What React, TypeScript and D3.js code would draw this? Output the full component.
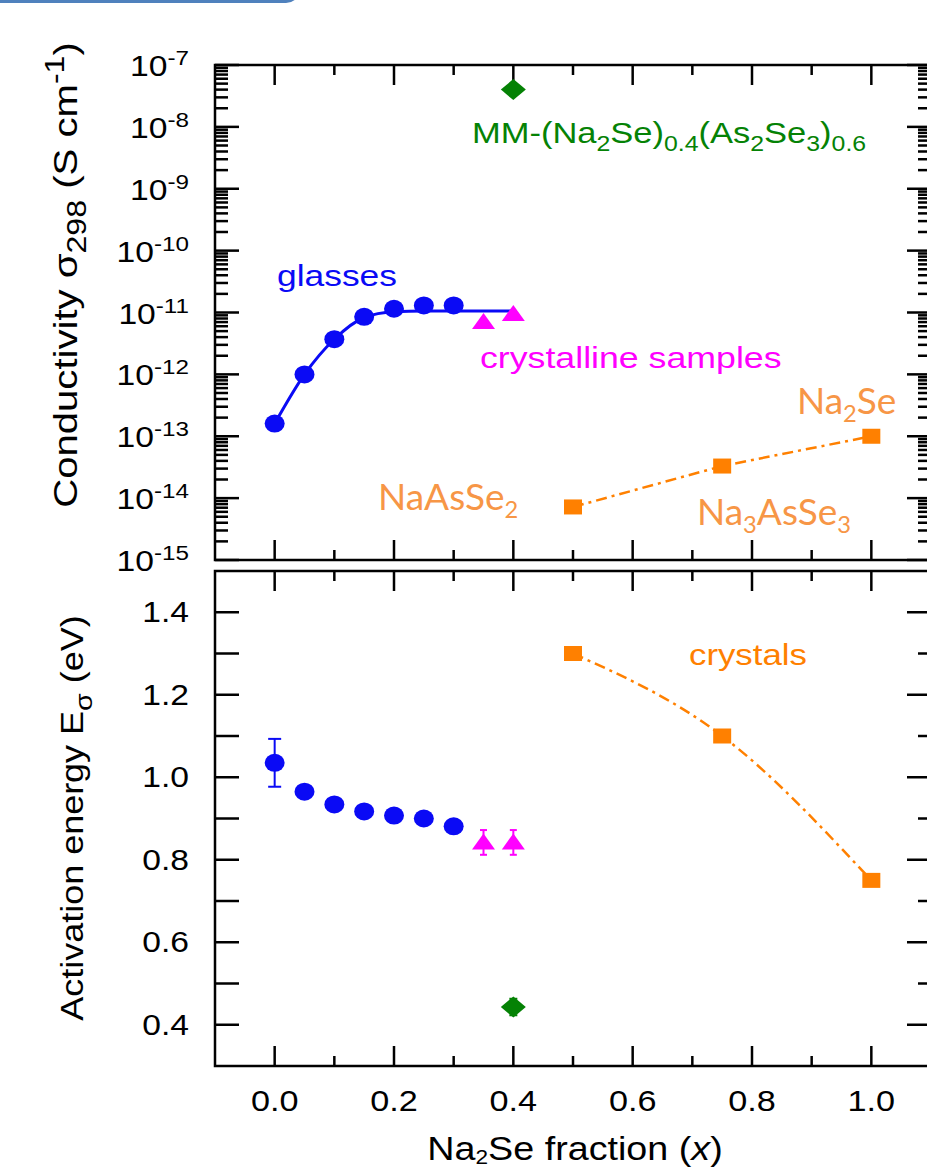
import React from "react";
import * as d3 from "d3";

const W = 927;
const H = 1170;
const ARIAL = "'Liberation Sans', Arial, sans-serif";
const CALIBRI = "Lato, 'Open Sans', sans-serif";

// Na2Se fraction of the glasses and their room-temperature conductivity / activation energy
const glassX = [0, 0.05, 0.1, 0.15, 0.2, 0.25, 0.3];
const glassSigma = [1.6e-13, 1.0e-12, 3.7e-12, 8.5e-12, 1.15e-11, 1.3e-11, 1.3e-11];
const glassEa = [1.035, 0.965, 0.934, 0.917, 0.907, 0.9, 0.881];
const glassEaErr = [0.058, 0, 0, 0, 0, 0, 0];

// guide curve through the glass conductivities
const glassFitX = [0, 0.05, 0.1, 0.15, 0.2, 0.25, 0.3, 0.35, 0.4];
const glassFitSigma = [1.6e-13, 1.0e-12, 3.7e-12, 8.3e-12, 1.03e-11, 1.06e-11, 1.06e-11, 1.06e-11, 1.06e-11];

// crystallised samples
const crystSampleX = [0.35, 0.4];
const crystSampleSigma = [7.0e-12, 9.5e-12];
const crystSampleEa = [0.842, 0.842];
const crystSampleEaErr = [0.03, 0.03];

// mechanically milled (Na2Se)0.4(As2Se3)0.6
const mmX = [0.4];
const mmSigma = [4.0e-8];
const mmEa = [0.443];
const mmEaErr = [0.02];

// crystalline compounds NaAsSe2, Na3AsSe3, Na2Se
const crystalX = [0.5, 0.75, 1.0];
const crystalSigma = [7.2e-15, 3.3e-14, 1.0e-13];
const crystalEa = [1.3, 1.1, 0.75];

// axis ticks
const xMajor = [0, 0.2, 0.4, 0.6, 0.8, 1.0];
const xMinor = [0.1, 0.3, 0.5, 0.7, 0.9];
const xLabels = ["0.0", "0.2", "0.4", "0.6", "0.8", "1.0"];
const sigmaExponents = [-7, -8, -9, -10, -11, -12, -13, -14, -15];
const eaMajor = [0.4, 0.6, 0.8, 1.0, 1.2, 1.4];
const eaMinor = [0.5, 0.7, 0.9, 1.1, 1.3];
const eaLabels = ["0.4", "0.6", "0.8", "1.0", "1.2", "1.4"];

const BLUE = "#0a0af5";
const MAGENTA = "#ff00ff";
const GREEN = "#058205";
const ORANGE = "#ff8000";
const LABEL_ORANGE = "#f79646";

// plot geometry
const left = 215;
const right = 931;
const topA = 65;
const botA = 560;
const topB = 571;
const botB = 1066;

const x = d3.scaleLinear().domain([-0.1, 1.1]).range([left, right]);
const yS = d3.scaleLog().domain([1e-15, 1e-7]).range([botA, topA]);
const yE = d3.scaleLinear().domain([0.3, 1.5]).range([botB, topB]);

type Part = [string, "n" | "sub" | "sup" | "i"];

function Rich({ parts, size, subScale = 0.72, subDy, supDy }: { parts: Part[]; size: number; subScale?: number; subDy: number; supDy: number }) {
  let cur = 0;
  return (
    <>
      {parts.map(([t, k], i) => {
        const target = k === "sub" ? subDy : k === "sup" ? -supDy : 0;
        const dy = target - cur;
        cur = target;
        const small = k === "sub" || k === "sup";
        return (
          <tspan key={i} dy={dy} fontSize={small ? size * subScale : size} fontStyle={k === "i" ? "italic" : undefined}>
            {t}
          </tspan>
        );
      })}
    </>
  );
}

function Label({ x: tx, y: ty, size, fill = "#000", anchor = "start", sx = 1.16, family = ARIAL, rotate = 0, children }: any) {
  return (
    <text
      transform={`translate(${tx},${ty}) rotate(${rotate}) scale(${sx},1)`}
      fontSize={size}
      fill={fill}
      textAnchor={anchor}
      fontFamily={family}
    >
      {children}
    </text>
  );
}

function Circle({ cx, cy, fill }: any) {
  return <ellipse cx={cx} cy={cy} rx={10} ry={9} fill={fill} />;
}
function Triangle({ cx, cy, fill }: any) {
  const w = 11.5;
  return <path d={`M${cx},${cy - 9}L${cx + w},${cy + 7}L${cx - w},${cy + 7}Z`} fill={fill} />;
}
function Square({ cx, cy, fill }: any) {
  return <rect x={cx - 9} y={cy - 7.5} width={18} height={15} fill={fill} />;
}
function Diamond({ cx, cy, fill }: any) {
  return <path d={`M${cx},${cy - 10.5}L${cx + 12.5},${cy}L${cx},${cy + 10.5}L${cx - 12.5},${cy}Z`} fill={fill} />;
}
function ErrBar({ cx, y1, y2, cap, stroke, width = 2 }: any) {
  return (
    <g stroke={stroke} strokeWidth={width}>
      <line x1={cx} x2={cx} y1={y1} y2={y2} />
      <line x1={cx - cap / 2} x2={cx + cap / 2} y1={y1} y2={y1} />
      <line x1={cx - cap / 2} x2={cx + cap / 2} y1={y2} y2={y2} />
    </g>
  );
}

function Frame({ top, bottom, yTicksLeft, yTicksRight }: any) {
  const sw = 2.5;
  return (
    <g stroke="#000" strokeWidth={sw} fill="none">
      <rect x={left} y={top} width={right - left} height={bottom - top} />
      {xMajor.map((v) => (
        <g key={"M" + v}>
          <line x1={x(v)} x2={x(v)} y1={top} y2={top + 20} />
          <line x1={x(v)} x2={x(v)} y1={bottom} y2={bottom - 20} />
        </g>
      ))}
      {xMinor.map((v) => (
        <g key={"m" + v}>
          <line x1={x(v)} x2={x(v)} y1={top} y2={top + 10} />
          <line x1={x(v)} x2={x(v)} y1={bottom} y2={bottom - 10} />
        </g>
      ))}
      {yTicksLeft.map(([py, len]: [number, number], i: number) => (
        <line key={"l" + i} x1={left} x2={left + len} y1={py} y2={py} />
      ))}
      {yTicksRight.map(([py, len]: [number, number], i: number) => (
        <line key={"r" + i} x1={right} x2={right - len} y1={py} y2={py} />
      ))}
    </g>
  );
}

export default function App() {
  // logarithmic ticks for the conductivity panel
  const logTicks: [number, number][] = [];
  for (let e = -15; e <= -7; e++) {
    logTicks.push([yS(Math.pow(10, e)), 24]);
    if (e < -7) {
      d3.range(2, 10).forEach((m) => logTicks.push([yS(m * Math.pow(10, e)), 13]));
    }
  }
  const eaLeft: [number, number][] = [...eaMajor, ...eaMinor].map((v) => [yE(v), 24]);
  const eaRight: [number, number][] = [
    ...eaMajor.map((v) => [yE(v), 24] as [number, number]),
    ...eaMinor.map((v) => [yE(v), 13] as [number, number]),
  ];

  const fitLine = d3
    .line<number>()
    .x((_, i) => x(glassFitX[i]))
    .y((d) => yS(d))
    .curve(d3.curveMonotoneX);
  const crystalLineTop = d3
    .line<number>()
    .x((_, i) => x(crystalX[i]))
    .y((d) => yS(d));
  const crystalLineBot = d3
    .line<number>()
    .x((_, i) => x(crystalX[i]))
    .y((d) => yE(d))
    .curve(d3.curveNatural);

  const dashDot = "11 5 3 5";

  return (
    <svg width={W} height={H} style={{ position: "absolute", left: 0, top: 0, background: "#fff" }}>
      <rect x={-30} y={-40} width={330} height={43} rx={14} fill="#4f81bd" />

      {/* ---------- conductivity panel ---------- */}
      <Frame top={topA} bottom={botA} yTicksLeft={logTicks} yTicksRight={logTicks} />
      {sigmaExponents.map((e) => (
        <Label key={e} x={189} y={yS(Math.pow(10, e)) + 11} size={29} anchor="end">
          <Rich parts={[["10", "n"], [String(e), "sup"]]} size={29} subScale={0.72} subDy={0} supDy={11} />
        </Label>
      ))}

      <path d={fitLine(glassFitSigma) || ""} fill="none" stroke={BLUE} strokeWidth={3} />
      {glassSigma.map((v, i) => (
        <Circle key={i} cx={x(glassX[i])} cy={yS(v)} fill={BLUE} />
      ))}
      {crystSampleSigma.map((v, i) => (
        <Triangle key={i} cx={x(crystSampleX[i])} cy={yS(v)} fill={MAGENTA} />
      ))}
      {mmSigma.map((v, i) => (
        <Diamond key={i} cx={x(mmX[i])} cy={yS(v)} fill={GREEN} />
      ))}
      <path d={crystalLineTop(crystalSigma) || ""} fill="none" stroke={ORANGE} strokeWidth={2.5} strokeDasharray={dashDot} />
      {crystalSigma.map((v, i) => (
        <Square key={i} cx={x(crystalX[i])} cy={yS(v)} fill={ORANGE} />
      ))}

      <Label x={472} y={143} size={30} sx={1.15} fill={GREEN}>
        <Rich
          parts={[["MM-(Na", "n"], ["2", "sub"], ["Se)", "n"], ["0.4", "sub"], ["(As", "n"], ["2", "sub"], ["Se", "n"], ["3", "sub"], [")", "n"], ["0.6", "sub"]]}
          size={30}
          subDy={8}
          supDy={0}
        />
      </Label>
      <Label x={277} y={286} size={30} sx={1.18} fill={BLUE}>glasses</Label>
      <Label x={480} y={368} size={30} sx={1.19} fill={MAGENTA}>crystalline samples</Label>
      <Label x={797} y={414} size={37} sx={1} family={CALIBRI} fill={LABEL_ORANGE}>
        <Rich parts={[["Na", "n"], ["2", "sub"], ["Se", "n"]]} size={37} subScale={0.64} subDy={8} supDy={0} />
      </Label>
      <Label x={378} y={510} size={37} sx={1} family={CALIBRI} fill={LABEL_ORANGE}>
        <Rich parts={[["NaAsSe", "n"], ["2", "sub"]]} size={37} subScale={0.64} subDy={8} supDy={0} />
      </Label>
      <Label x={697} y={525} size={37} sx={1} family={CALIBRI} fill={LABEL_ORANGE}>
        <Rich parts={[["Na", "n"], ["3", "sub"], ["AsSe", "n"], ["3", "sub"]]} size={37} subScale={0.64} subDy={8} supDy={0} />
      </Label>

      <Label x={77} y={275} size={34} sx={1.18} rotate={-90} anchor="middle">
        <Rich
          parts={[["Conductivity σ", "n"], ["298", "sub"], [" (S cm", "n"], ["-1", "sup"], [")", "n"]]}
          size={34}
          subScale={0.8}
          subDy={9}
          supDy={13}
        />
      </Label>

      {/* ---------- activation energy panel ---------- */}
      <Frame top={topB} bottom={botB} yTicksLeft={eaLeft} yTicksRight={eaRight} />
      {eaMajor.map((v, i) => (
        <Label key={v} x={189} y={yE(v) + 10} size={29} anchor="end">
          {eaLabels[i]}
        </Label>
      ))}
      {xMajor.map((v, i) => (
        <Label key={v} x={x(v)} y={1111} size={29} sx={1.18} anchor="middle">
          {xLabels[i]}
        </Label>
      ))}

      {glassEa.map((v, i) =>
        glassEaErr[i] > 0 ? (
          <ErrBar key={"e" + i} cx={x(glassX[i])} y1={yE(v + glassEaErr[i])} y2={yE(v - glassEaErr[i])} cap={13} stroke={BLUE} />
        ) : null
      )}
      {glassEa.map((v, i) => (
        <Circle key={i} cx={x(glassX[i])} cy={yE(v)} fill={BLUE} />
      ))}
      {crystSampleEa.map((v, i) => (
        <ErrBar key={"e" + i} cx={x(crystSampleX[i])} y1={yE(v + crystSampleEaErr[i])} y2={yE(v - crystSampleEaErr[i])} cap={7} stroke={MAGENTA} />
      ))}
      {crystSampleEa.map((v, i) => (
        <Triangle key={i} cx={x(crystSampleX[i])} cy={yE(v)} fill={MAGENTA} />
      ))}
      {mmEa.map((v, i) => (
        <ErrBar key={"e" + i} cx={x(mmX[i])} y1={yE(v + mmEaErr[i])} y2={yE(v - mmEaErr[i])} cap={8} stroke={GREEN} />
      ))}
      {mmEa.map((v, i) => (
        <Diamond key={i} cx={x(mmX[i])} cy={yE(v)} fill={GREEN} />
      ))}
      <path d={crystalLineBot(crystalEa) || ""} fill="none" stroke={ORANGE} strokeWidth={2.5} strokeDasharray={dashDot} />
      {crystalEa.map((v, i) => (
        <Square key={i} cx={x(crystalX[i])} cy={yE(v)} fill={ORANGE} />
      ))}

      <Label x={689} y={665} size={30} fill={ORANGE}>crystals</Label>

      <Label x={83} y={818} size={31} rotate={-90} anchor="middle">
        <Rich parts={[["Activation energy E", "n"], ["σ", "sub"], [" (eV)", "n"]]} size={31} subScale={0.8} subDy={9} supDy={0} />
      </Label>

      <Label x={575} y={1160} size={32.5} anchor="middle">
        <Rich parts={[["Na", "n"], ["2", "sub"], ["Se fraction (", "n"], ["x", "i"], [")", "n"]]} size={32.5} subScale={0.6} subDy={4} supDy={0} />
      </Label>
    </svg>
  );
}
